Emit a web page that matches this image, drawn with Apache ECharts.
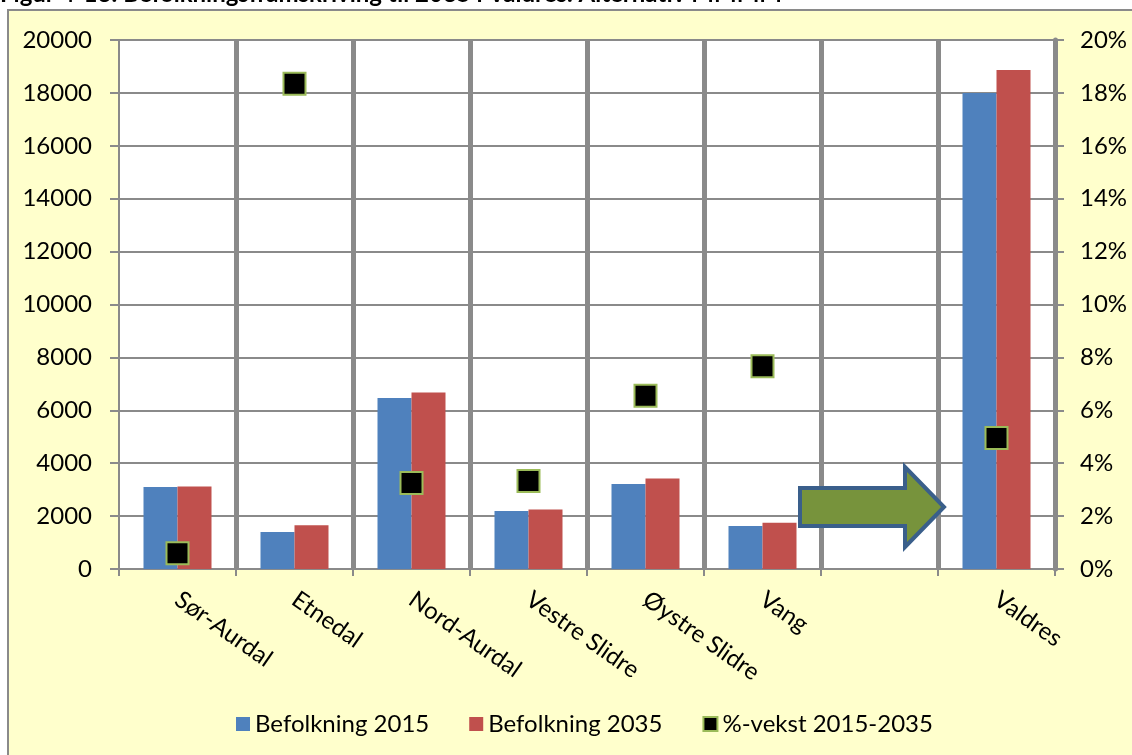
<!DOCTYPE html>
<html>
<head>
<meta charset="utf-8">
<script src="https://cdn.jsdelivr.net/npm/echarts@6/dist/echarts.min.js"></script>
<style>
  html, body { margin: 0; padding: 0; background: #fff; }
  #main { width: 1132px; height: 755px; }
</style>
</head>
<body>
<div id="main"></div>
<script type="text/javascript">
    // data
    var kommuner = ['Sør-Aurdal', 'Etnedal', 'Nord-Aurdal', 'Vestre Slidre', 'Øystre Slidre', 'Vang', '', 'Valdres'];
    var bef2015 = [3100, 1400, 6465, 2195, 3215, 1625, null, 17995];
    var bef2035 = [3120, 1655, 6670, 2250, 3420, 1750, null, 18865];
    var vekst = [0.6, 18.35, 3.25, 3.33, 6.55, 7.67, null, 4.95];
    var venstreTicks = [0, 2000, 4000, 6000, 8000, 10000, 12000, 14000, 16000, 18000, 20000];
    var hoyreTicks = [0, 2, 4, 6, 8, 10, 12, 14, 16, 18, 20];

    var font = 'Lato, "Open Sans", sans-serif';
    var grey = '#8a8a8a';

    var myChart = echarts.init(document.getElementById('main'));

    var option = {
        backgroundColor: '#fff',
        textStyle: { fontFamily: font },
        graphic: [
            { // yellow frame
                type: 'rect', z: -10, silent: true,
                shape: { x: 8, y: 10, width: 1140, height: 760 },
                style: { fill: '#FFFFCC', stroke: grey, lineWidth: 2 }
            },
            { // figure caption, cut off at the top like the original
                type: 'text', left: 0, top: -18, z: 10,
                style: {
                    text: 'Figur 4-13: Befolkningsframskriving til 2035 i Valdres. Alternativ MMMM',
                    font: 'bold 24px ' + font, fill: '#000'
                }
            },
            { // green arrow pointing at Valdres
                type: 'polygon', z: 50,
                shape: { points: [[800, 488], [905, 488], [905, 467], [944, 507], [905, 547], [905, 526], [800, 526]] },
                style: { fill: '#77933C', stroke: '#3A5F8B', lineWidth: 4, lineJoin: 'miter' }
            }
        ],
        grid: {
            left: 119, right: 77, top: 40, bottom: 186,
            show: true, backgroundColor: '#fff', borderWidth: 0
        },
        legend: {
            left: 231, top: 707,
            itemWidth: 14, itemHeight: 14, itemGap: 40,
            textStyle: { fontSize: 24, color: '#000', fontFamily: font },
            data: [
                { name: 'Befolkning 2015', icon: 'rect' },
                { name: 'Befolkning 2035', icon: 'rect' },
                { name: '%-vekst 2015-2035', icon: 'rect', itemStyle: { color: '#000', borderColor: '#9BBB59', borderWidth: 2 } }
            ]
        },
        xAxis: {
            type: 'category',
            data: kommuner,
            axisLine: { lineStyle: { color: grey, width: 2 } },
            axisTick: { show: true, length: 7, lineStyle: { color: grey, width: 2 } },
            axisLabel: {
                rotate: -35, margin: 28, fontSize: 24, color: '#000', fontFamily: font,
                interval: 0
            },
            splitLine: {
                show: true,
                interval: function (i) { return i > 0; },
                lineStyle: { color: grey, width: 5 }
            }
        },
        yAxis: [{
            type: 'value', min: 0, max: 20000, interval: 2000,
            axisLine: { show: true, lineStyle: { color: grey, width: 2 } },
            axisTick: { show: true, length: 9, lineStyle: { color: grey, width: 2 } },
            axisLabel: {
                margin: 27, fontSize: 24, color: '#000', fontFamily: font,
                customValues: venstreTicks,
                formatter: function (v) { return String(v); }
            },
            splitLine: { show: true, lineStyle: { color: grey, width: 2 } }
        }, {
            type: 'value', min: 0, max: 20, interval: 2,
            axisLine: { show: true, lineStyle: { color: grey, width: 5 } },
            axisTick: { show: true, length: 9, lineStyle: { color: grey, width: 2 } },
            axisLabel: {
                margin: 25, fontSize: 24, color: '#000', fontFamily: font,
                customValues: hoyreTicks,
                formatter: function (v) { return v + '%'; }
            },
            splitLine: { show: false }
        }],
        series: [{
            name: 'Befolkning 2015',
            type: 'bar',
            data: bef2015,
            barWidth: 34,
            barGap: '0%',
            itemStyle: { color: '#4F81BD' }
        }, {
            name: 'Befolkning 2035',
            type: 'bar',
            data: bef2035,
            barWidth: 34,
            itemStyle: { color: '#C0504D' }
        }, {
            name: '%-vekst 2015-2035',
            type: 'scatter',
            yAxisIndex: 1,
            data: vekst,
            symbol: 'rect',
            symbolSize: 22,
            z: 5,
            itemStyle: { color: '#000', borderColor: '#9BBB59', borderWidth: 2, opacity: 1 }
        }]
    };

    myChart.setOption(option);
</script>
</body>
</html>
